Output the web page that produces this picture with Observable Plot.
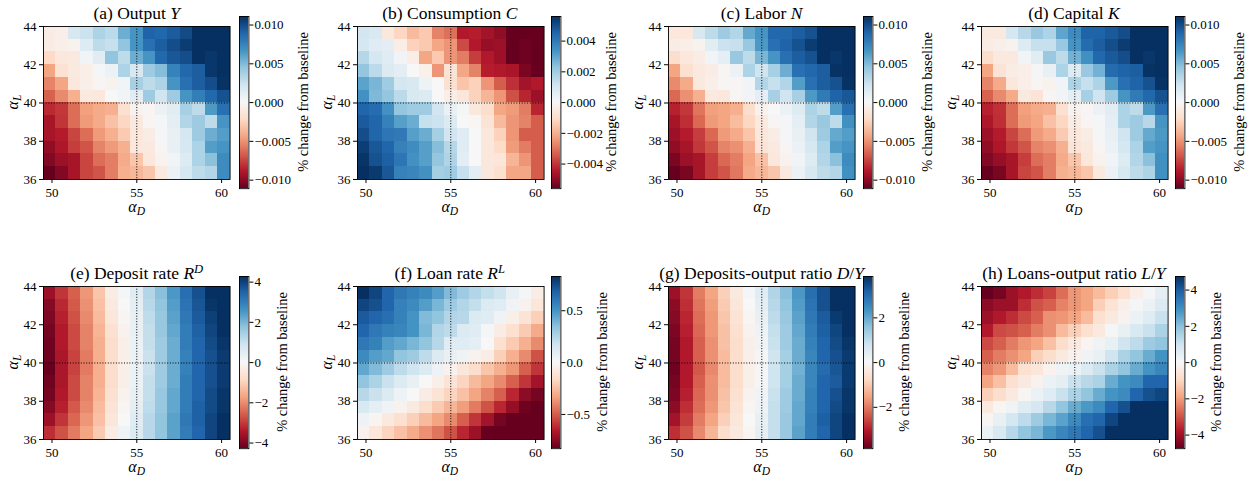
<!DOCTYPE html>
<html>
<head>
<meta charset="utf-8">
<script src="https://cdn.jsdelivr.net/npm/d3@7"></script>
<script src="https://cdn.jsdelivr.net/npm/@observablehq/plot@0.6"></script>
<style>
  body { margin: 0; background: #fff; }
  #fig { position: relative; width: 1260px; height: 481px; overflow: hidden; font-family: "Liberation Serif", serif; color: #000; }
  #fig .t { position: absolute; white-space: nowrap; line-height: 1; }
  #fig .sub { font-size: 0.72em; position: relative; top: 0.28em; }
  #fig .sup { font-size: 0.72em; position: relative; top: -0.45em; }
  #fig svg { position: absolute; }
</style>
</head>
<body>
<div id="fig"></div>
<script>
// ---------------- data ----------------
const alphaDEdges = [49.5, 50.233, 50.967, 51.7, 52.433, 53.167, 53.9, 54.633, 55.367, 56.1, 56.833, 57.567, 58.3, 59.033, 59.767, 60.5];
const alphaLEdges = [36, 36.667, 37.333, 38, 38.667, 39.333, 40, 40.667, 41.333, 42, 42.667, 43.333, 44];
const xTicks = [50, 55, 60];
const yTicks = [36, 38, 40, 42, 44];
const refD = 55;
const refL = 40;

const titles = [
  "(a) Output <i>Y</i>",
  "(b) Consumption <i>C</i>",
  "(c) Labor <i>N</i>",
  "(d) Capital <i>K</i>",
  "(e) Deposit rate <i>R</i><span class='sup'><i>D</i></span>",
  "(f) Loan rate <i>R</i><span class='sup'><i>L</i></span>",
  "(g) Deposits-output ratio <i>D</i>/<i>Y</i>",
  "(h) Loans-output ratio <i>L</i>/<i>Y</i>"
];
const colorbarLabel = "% change from baseline";

const ticksSmall = [-0.010, -0.005, 0, 0.005, 0.010];
const ticksCons = [-0.004, -0.002, 0, 0.002, 0.004];
const ticksRD = [-4, -2, 0, 2, 4];
const ticksRL = [-0.5, 0, 0.5];
const ticksDY = [-2, 0, 2];
const ticksLY = [-4, -2, 0, 2, 4];

// rows listed from top (alpha_L = 44) to bottom (alpha_L = 36)
const outputY = [
  [-0.0009,-0.0007,0.0018,0.0024,0.0035,0.0030,0.0055,0.0066,0.0090,0.0088,0.0093,0.0100,0.0111,0.0113,0.0114],
  [-0.0009,-0.0007,-0.0004,0.0015,0.0029,0.0026,0.0044,0.0066,0.0084,0.0092,0.0099,0.0106,0.0112,0.0112,0.0114],
  [-0.0022,-0.0013,-0.0011,0.0004,0.0013,0.0044,0.0029,0.0055,0.0066,0.0088,0.0095,0.0099,0.0112,0.0108,0.0113],
  [-0.0044,-0.0017,-0.0011,-0.0007,0.0002,0.0007,0.0035,0.0018,0.0040,0.0048,0.0075,0.0088,0.0092,0.0108,0.0112],
  [-0.0055,-0.0044,-0.0013,-0.0007,-0.0002,-0.0004,0.0004,0.0037,0.0029,0.0035,0.0066,0.0084,0.0092,0.0099,0.0110],
  [-0.0066,-0.0053,-0.0040,-0.0011,-0.0013,0.0000,0.0004,0.0013,0.0040,0.0022,0.0040,0.0066,0.0077,0.0088,0.0097],
  [-0.0084,-0.0079,-0.0062,-0.0046,-0.0042,-0.0040,-0.0018,-0.0004,-0.0002,0.0007,0.0013,0.0037,0.0029,0.0064,0.0084],
  [-0.0092,-0.0080,-0.0062,-0.0048,-0.0042,-0.0033,-0.0024,-0.0011,-0.0002,0.0002,0.0011,0.0033,0.0040,0.0029,0.0066],
  [-0.0092,-0.0088,-0.0075,-0.0062,-0.0048,-0.0040,-0.0029,-0.0013,-0.0009,0.0002,0.0009,0.0020,0.0040,0.0055,0.0062],
  [-0.0099,-0.0090,-0.0077,-0.0070,-0.0055,-0.0048,-0.0040,-0.0013,-0.0011,-0.0002,0.0009,0.0018,0.0035,0.0062,0.0066],
  [-0.0103,-0.0095,-0.0092,-0.0075,-0.0062,-0.0057,-0.0042,-0.0031,-0.0013,-0.0004,0.0004,0.0015,0.0035,0.0046,0.0070],
  [-0.0112,-0.0103,-0.0092,-0.0075,-0.0070,-0.0057,-0.0040,-0.0037,-0.0031,-0.0011,0.0007,0.0018,0.0029,0.0033,0.0070]
];

const consumptionC = [
  [0.0011,0.0009,-0.0006,-0.0012,-0.0018,-0.0015,-0.0028,-0.0031,-0.0045,-0.0044,-0.0047,-0.0050,-0.0057,-0.0056,-0.0058],
  [0.0010,0.0007,0.0006,-0.0004,-0.0013,-0.0015,-0.0022,-0.0025,-0.0037,-0.0045,-0.0049,-0.0048,-0.0057,-0.0055,-0.0057],
  [0.0016,0.0010,0.0007,0.0002,-0.0004,-0.0022,-0.0015,-0.0025,-0.0029,-0.0039,-0.0045,-0.0048,-0.0057,-0.0055,-0.0057],
  [0.0022,0.0015,0.0008,0.0006,0.0000,-0.0003,-0.0025,-0.0008,-0.0022,-0.0028,-0.0044,-0.0045,-0.0046,-0.0053,-0.0057],
  [0.0030,0.0026,0.0020,0.0010,0.0009,0.0003,0.0000,-0.0009,-0.0016,-0.0013,-0.0025,-0.0034,-0.0041,-0.0047,-0.0045],
  [0.0034,0.0025,0.0022,0.0015,0.0009,0.0008,0.0000,-0.0004,-0.0007,-0.0013,-0.0019,-0.0025,-0.0036,-0.0043,-0.0048],
  [0.0045,0.0043,0.0034,0.0022,0.0020,0.0020,0.0011,0.0004,0.0001,-0.0006,-0.0010,-0.0022,-0.0024,-0.0029,-0.0043],
  [0.0047,0.0045,0.0038,0.0031,0.0028,0.0013,0.0012,0.0008,0.0000,-0.0001,-0.0008,-0.0018,-0.0025,-0.0028,-0.0034],
  [0.0050,0.0045,0.0041,0.0040,0.0031,0.0028,0.0019,0.0011,0.0007,0.0000,-0.0006,-0.0013,-0.0025,-0.0034,-0.0034],
  [0.0053,0.0048,0.0045,0.0038,0.0035,0.0031,0.0024,0.0016,0.0007,0.0000,-0.0006,-0.0011,-0.0024,-0.0029,-0.0034],
  [0.0055,0.0049,0.0046,0.0041,0.0034,0.0031,0.0022,0.0017,0.0006,0.0000,-0.0006,-0.0007,-0.0019,-0.0025,-0.0034],
  [0.0056,0.0054,0.0048,0.0038,0.0037,0.0034,0.0019,0.0020,0.0013,0.0006,-0.0006,-0.0009,-0.0022,-0.0022,-0.0034]
];

const laborN = [
  [-0.0013,-0.0013,0.0018,0.0029,0.0040,0.0033,0.0057,0.0066,0.0088,0.0088,0.0092,0.0097,0.0111,0.0113,0.0114],
  [-0.0009,-0.0007,-0.0004,0.0013,0.0024,0.0026,0.0042,0.0064,0.0084,0.0090,0.0097,0.0106,0.0111,0.0112,0.0113],
  [-0.0020,-0.0013,-0.0009,0.0004,0.0011,0.0042,0.0029,0.0051,0.0066,0.0084,0.0092,0.0097,0.0111,0.0108,0.0112],
  [-0.0044,-0.0018,-0.0011,-0.0009,-0.0002,0.0007,0.0035,0.0022,0.0037,0.0055,0.0084,0.0088,0.0092,0.0110,0.0112],
  [-0.0053,-0.0042,-0.0011,-0.0007,-0.0002,-0.0002,0.0004,0.0033,0.0026,0.0033,0.0062,0.0084,0.0092,0.0097,0.0110],
  [-0.0064,-0.0051,-0.0040,-0.0011,-0.0013,-0.0002,0.0004,0.0011,0.0037,0.0022,0.0037,0.0064,0.0079,0.0090,0.0095],
  [-0.0086,-0.0079,-0.0060,-0.0046,-0.0044,-0.0040,-0.0020,-0.0004,0.0000,0.0007,0.0015,0.0035,0.0029,0.0062,0.0084],
  [-0.0092,-0.0082,-0.0064,-0.0048,-0.0044,-0.0035,-0.0024,-0.0011,-0.0002,0.0002,0.0011,0.0033,0.0042,0.0029,0.0068],
  [-0.0095,-0.0088,-0.0077,-0.0064,-0.0048,-0.0042,-0.0031,-0.0013,-0.0009,0.0002,0.0009,0.0022,0.0040,0.0057,0.0062],
  [-0.0099,-0.0092,-0.0079,-0.0070,-0.0055,-0.0051,-0.0040,-0.0015,-0.0011,-0.0002,0.0007,0.0018,0.0035,0.0062,0.0066],
  [-0.0105,-0.0095,-0.0092,-0.0077,-0.0064,-0.0057,-0.0044,-0.0033,-0.0013,-0.0004,0.0004,0.0015,0.0033,0.0046,0.0070],
  [-0.0112,-0.0105,-0.0092,-0.0077,-0.0070,-0.0059,-0.0042,-0.0037,-0.0031,-0.0011,0.0007,0.0018,0.0029,0.0033,0.0068]
];

const capitalK = [
  [-0.0011,-0.0011,0.0020,0.0031,0.0042,0.0035,0.0059,0.0070,0.0090,0.0090,0.0094,0.0099,0.0112,0.0114,0.0115],
  [-0.0009,-0.0006,-0.0004,0.0015,0.0026,0.0026,0.0042,0.0066,0.0086,0.0092,0.0099,0.0106,0.0112,0.0112,0.0114],
  [-0.0020,-0.0011,-0.0011,0.0004,0.0013,0.0042,0.0029,0.0053,0.0068,0.0088,0.0094,0.0099,0.0112,0.0108,0.0113],
  [-0.0044,-0.0015,-0.0009,-0.0007,0.0002,0.0009,0.0035,0.0015,0.0042,0.0053,0.0086,0.0090,0.0092,0.0110,0.0112],
  [-0.0055,-0.0042,-0.0013,-0.0007,-0.0002,-0.0004,0.0004,0.0035,0.0026,0.0035,0.0064,0.0084,0.0090,0.0097,0.0110],
  [-0.0066,-0.0053,-0.0042,-0.0011,-0.0015,-0.0002,0.0004,0.0011,0.0037,0.0022,0.0040,0.0066,0.0079,0.0088,0.0097],
  [-0.0086,-0.0081,-0.0062,-0.0046,-0.0042,-0.0040,-0.0018,-0.0004,-0.0002,0.0007,0.0013,0.0035,0.0029,0.0064,0.0084],
  [-0.0090,-0.0082,-0.0062,-0.0048,-0.0044,-0.0033,-0.0024,-0.0009,-0.0002,0.0002,0.0011,0.0035,0.0040,0.0031,0.0066],
  [-0.0095,-0.0088,-0.0075,-0.0062,-0.0048,-0.0042,-0.0029,-0.0013,-0.0009,0.0002,0.0009,0.0022,0.0040,0.0057,0.0064],
  [-0.0099,-0.0090,-0.0079,-0.0070,-0.0055,-0.0051,-0.0040,-0.0015,-0.0011,-0.0002,0.0007,0.0020,0.0035,0.0062,0.0066],
  [-0.0103,-0.0097,-0.0092,-0.0077,-0.0062,-0.0057,-0.0042,-0.0031,-0.0013,-0.0004,0.0004,0.0015,0.0033,0.0046,0.0068],
  [-0.0112,-0.0105,-0.0092,-0.0075,-0.0070,-0.0057,-0.0040,-0.0037,-0.0031,-0.0011,0.0007,0.0018,0.0029,0.0035,0.0068]
];

const depositRate = [
  [-3.68,-3.08,-2.57,-1.88,-1.20,-0.34,0.09,0.51,1.28,1.80,2.48,3.25,3.77,4.28,4.45],
  [-3.94,-3.25,-2.65,-1.97,-1.28,-0.43,0.00,0.43,1.20,1.71,2.40,3.17,3.68,4.19,4.45],
  [-4.02,-3.34,-2.74,-2.05,-1.37,-0.51,-0.09,0.34,1.11,1.63,2.31,3.08,3.60,4.02,4.37],
  [-4.11,-3.42,-2.82,-2.14,-1.46,-0.68,-0.17,0.34,1.03,1.63,2.23,3.00,3.51,3.94,4.28],
  [-4.19,-3.42,-2.82,-2.14,-1.54,-0.77,-0.26,0.26,1.03,1.54,2.14,3.00,3.42,3.85,4.19],
  [-4.19,-3.51,-2.91,-2.23,-1.54,-0.77,-0.26,0.26,0.94,1.54,2.14,2.91,3.42,3.77,4.11],
  [-4.28,-3.51,-2.91,-2.23,-1.54,-0.77,-0.26,0.26,0.94,1.54,2.14,2.91,3.42,3.77,4.11],
  [-4.19,-3.51,-2.82,-2.14,-1.54,-0.77,-0.26,0.26,1.03,1.54,2.14,3.00,3.42,3.77,4.11],
  [-4.11,-3.42,-2.82,-2.14,-1.46,-0.68,-0.17,0.34,1.03,1.63,2.23,3.00,3.42,3.85,4.19],
  [-3.94,-3.34,-2.65,-2.05,-1.37,-0.60,-0.09,0.43,1.11,1.63,2.23,3.00,3.51,3.85,4.19],
  [-3.68,-3.08,-2.48,-1.88,-1.28,-0.51,0.00,0.51,1.20,1.71,2.31,3.08,3.51,3.94,4.28],
  [-3.17,-2.74,-2.23,-1.71,-1.11,-0.34,0.17,0.60,1.20,1.71,2.31,3.00,3.42,3.94,4.28]
];

const loanRate = [
  [0.830,0.764,0.664,0.598,0.564,0.531,0.465,0.365,0.299,0.249,0.199,0.166,0.066,0.017,-0.066],
  [0.764,0.730,0.664,0.564,0.531,0.465,0.382,0.299,0.249,0.199,0.116,0.100,0.033,-0.033,-0.100],
  [0.697,0.664,0.631,0.564,0.498,0.365,0.332,0.249,0.232,0.116,0.100,0.033,-0.050,-0.116,-0.199],
  [0.664,0.598,0.564,0.548,0.498,0.382,0.249,0.216,0.116,0.100,0.017,-0.066,-0.133,-0.216,-0.315],
  [0.598,0.564,0.465,0.432,0.382,0.332,0.232,0.100,0.100,0.083,0.000,-0.133,-0.216,-0.299,-0.398],
  [0.531,0.465,0.432,0.332,0.299,0.216,0.116,0.066,0.033,-0.033,-0.066,-0.199,-0.299,-0.398,-0.531],
  [0.432,0.365,0.299,0.216,0.166,0.116,0.050,-0.033,-0.100,-0.149,-0.232,-0.299,-0.365,-0.498,-0.598],
  [0.332,0.266,0.183,0.116,0.066,0.000,-0.050,-0.116,-0.183,-0.266,-0.332,-0.398,-0.498,-0.598,-0.697],
  [0.232,0.183,0.116,0.050,0.000,-0.066,-0.116,-0.183,-0.249,-0.332,-0.415,-0.498,-0.631,-0.747,-0.797],
  [0.133,0.083,0.033,-0.033,-0.083,-0.149,-0.216,-0.282,-0.349,-0.432,-0.531,-0.631,-0.730,-0.813,-0.830],
  [0.050,-0.017,-0.083,-0.133,-0.199,-0.266,-0.332,-0.398,-0.498,-0.598,-0.697,-0.797,-0.830,-0.840,-0.850],
  [-0.033,-0.100,-0.183,-0.249,-0.315,-0.382,-0.448,-0.531,-0.631,-0.714,-0.830,-0.850,-0.860,-0.870,-0.880]
];

const depositsOutput = [
  [-3.31,-2.77,-2.00,-1.54,-0.92,-0.39,0.08,0.46,1.16,1.62,2.23,2.93,3.39,3.85,4.00],
  [-3.47,-2.85,-2.08,-1.62,-1.00,-0.46,0.00,0.39,1.08,1.54,2.16,2.85,3.39,3.85,4.00],
  [-3.54,-2.93,-2.16,-1.69,-1.08,-0.54,-0.08,0.31,1.00,1.46,2.08,2.77,3.23,3.70,3.93],
  [-3.62,-3.00,-2.23,-1.69,-1.16,-0.62,-0.15,0.23,0.92,1.39,2.00,2.70,3.16,3.54,3.85],
  [-3.70,-3.08,-2.31,-1.77,-1.16,-0.69,-0.23,0.15,0.85,1.39,1.93,2.62,3.08,3.47,3.77],
  [-3.70,-3.08,-2.31,-1.77,-1.23,-0.69,-0.23,0.08,0.77,1.31,1.93,2.54,3.08,3.39,3.70],
  [-3.77,-3.08,-2.39,-1.85,-1.23,-0.69,-0.23,0.08,0.77,1.31,1.85,2.54,3.00,3.31,3.70],
  [-3.70,-3.08,-2.31,-1.77,-1.23,-0.69,-0.23,0.08,0.77,1.31,1.93,2.54,3.08,3.23,3.70],
  [-3.62,-3.00,-2.23,-1.77,-1.16,-0.62,-0.15,0.15,0.85,1.39,1.93,2.62,3.08,3.39,3.77],
  [-3.47,-2.85,-2.16,-1.69,-1.08,-0.54,-0.08,0.23,0.92,1.39,2.00,2.62,3.08,3.47,3.77],
  [-3.23,-2.70,-2.00,-1.54,-0.92,-0.46,0.00,0.31,0.92,1.46,2.00,2.70,3.16,3.54,3.85],
  [-2.85,-2.46,-1.85,-1.31,-0.69,-0.39,-0.08,0.39,0.92,1.46,2.08,2.70,3.08,3.54,3.85]
];

const loansOutput = [
  [-4.75,-4.56,-4.09,-3.80,-3.52,-3.23,-2.66,-2.09,-1.90,-1.52,-1.14,-0.76,-0.29,0.10,0.48],
  [-4.28,-4.09,-4.09,-3.52,-3.04,-2.85,-2.38,-2.09,-1.90,-1.14,-0.67,-0.29,0.10,0.29,0.67],
  [-4.09,-3.80,-3.52,-3.14,-2.85,-2.19,-2.09,-1.90,-1.52,-0.76,-0.48,-0.19,0.29,0.57,1.05],
  [-3.80,-3.14,-3.04,-2.85,-2.47,-2.19,-1.52,-1.14,-0.76,-0.48,0.10,0.38,0.76,1.05,1.52],
  [-3.14,-2.85,-2.47,-2.09,-1.90,-1.43,-0.86,-0.48,-0.10,0.19,0.38,0.95,1.24,1.71,1.90],
  [-2.85,-2.47,-2.19,-1.90,-1.14,-0.86,-0.48,-0.19,0.19,0.38,0.95,1.52,1.90,2.38,2.85],
  [-2.38,-2.09,-1.52,-0.76,-0.57,-0.19,0.19,0.29,0.67,1.05,1.52,1.90,2.38,2.85,3.14],
  [-1.90,-1.43,-0.76,-0.48,-0.19,0.29,0.48,1.05,1.33,1.52,2.38,2.85,3.04,3.80,3.80],
  [-1.14,-0.86,-0.48,-0.10,0.29,0.57,1.05,1.52,1.90,2.38,2.85,3.04,3.80,4.18,4.37],
  [-0.48,-0.10,0.19,0.57,0.86,1.33,1.90,2.38,2.76,3.04,3.80,4.18,4.80,4.85,4.90],
  [-0.10,0.38,0.86,1.24,1.71,2.19,2.57,3.04,3.61,3.80,4.37,4.80,4.85,4.90,4.95],
  [0.29,0.76,1.33,1.90,2.19,2.76,3.14,3.42,3.80,4.18,4.80,4.85,4.90,4.95,5.00]
];

const series = [outputY, consumptionC, laborN, capitalK, depositRate, loanRate, depositsOutput, loansOutput];
const colorLimits = [0.0111, 0.0056, 0.0111, 0.0111, 4.28, 0.83, 3.85, 4.75];
const colorTicks = [ticksSmall, ticksCons, ticksSmall, ticksSmall, ticksRD, ticksRL, ticksDY, ticksLY];
const colorFormats = [".3f", ".3f", ".3f", ".3f", "d", ".1f", "d", "d"];

// ---------------- style / layout ----------------
const RDBU = ["#67001f","#b2182b","#d6604d","#f4a582","#fddbc7","#f7f7f7","#d1e5f0","#92c5de","#4393c3","#2166ac","#053061"];
const rdbu = d3.piecewise(d3.interpolateRgb, RDBU);
const FONT = '"Liberation Serif", serif';
const colLeft = [43.4, 356.5, 668.3, 980.6];
const rowTop = [25.7, 285.7];
const plotW = 186.6, plotH = 153;
const cbGap = [196, 194, 194.2, 193.9];
const cbW = 9.4, cbExtra = 9.6;
const cbLabelOffset = [54, 51.5, 55, 55.5, 33, 42, 32, 32.5];
const mL = 42, mR = 2, mT = 2, mB = 24;
const svgStyle = {fontFamily: FONT, fontSize: "13px", background: "transparent", overflow: "visible", maxWidth: "none", color: "black"};
const axisText = {fontFamily: FONT, fontSize: 13};

const fig = document.getElementById("fig");

function addSvg(svg, left, top) {
  svg.style.left = left + "px";
  svg.style.top = top + "px";
  fig.appendChild(svg);
}
function addText(html, size, cx, baseline) {
  const d = document.createElement("div");
  d.className = "t";
  d.innerHTML = html;
  d.style.fontFamily = FONT;
  d.style.fontSize = size + "px";
  d.style.left = cx + "px";
  d.style.top = (baseline - 0.84 * size) + "px";
  d.style.transform = "translateX(-50%)";
  fig.appendChild(d);
}
function addRotated(html, size, cx, cy) {
  const d = document.createElement("div");
  d.className = "t";
  d.innerHTML = html;
  d.style.fontFamily = FONT;
  d.style.fontSize = size + "px";
  d.style.left = cx + "px";
  d.style.top = cy + "px";
  d.style.transform = "translate(-50%,-50%) rotate(-90deg)";
  fig.appendChild(d);
}

series.forEach((values, k) => {
  const c = k % 4, r = Math.floor(k / 4);
  const L = colLeft[c], T = rowTop[r];
  const vmax = colorLimits[k];
  const color = {type: "linear", domain: [-vmax, vmax], interpolate: rdbu, clamp: true};

  const cells = [];
  values.forEach((row, i) => row.forEach((v, j) => {
    cells.push({x1: alphaDEdges[j], x2: alphaDEdges[j + 1], y1: alphaLEdges[11 - i], y2: alphaLEdges[12 - i], v});
  }));

  const heat = Plot.plot({
    width: mL + plotW + mR, height: mT + plotH + mB,
    marginLeft: mL, marginRight: mR, marginTop: mT, marginBottom: mB,
    style: svgStyle,
    x: {domain: [alphaDEdges[0], alphaDEdges[alphaDEdges.length - 1]]},
    y: {domain: [alphaLEdges[0], alphaLEdges[alphaLEdges.length - 1]]},
    color,
    marks: [
      Plot.rect(cells, {x1: "x1", x2: "x2", y1: "y1", y2: "y2", fill: "v", shapeRendering: "crispEdges"}),
      Plot.ruleX([refD], {stroke: "black", strokeWidth: 1, strokeDasharray: "1,1.7"}),
      Plot.ruleY([refL], {stroke: "black", strokeWidth: 1, strokeDasharray: "1,1.7"}),
      Plot.frame({stroke: "black", strokeWidth: 0.9}),
      Plot.axisX({ticks: xTicks, tickSize: 4, tickPadding: 4, label: null, ...axisText}),
      Plot.axisY({ticks: yTicks, tickSize: 4, tickPadding: 3, label: null, ...axisText})
    ]
  });
  addSvg(heat, L - mL, T - mT);

  // colorbar
  const N = 172;
  const stops = d3.range(N).map(i => ({lo: -vmax + i * 2 * vmax / N, hi: -vmax + (i + 1) * 2 * vmax / N, mid: -vmax + (i + 0.5) * 2 * vmax / N}));
  const cb = Plot.plot({
    width: cbW + 50, height: plotH + 2 * cbExtra,
    marginLeft: 0, marginRight: 50, marginTop: 0, marginBottom: 0,
    style: svgStyle,
    x: {domain: [0, 1], axis: null},
    y: {domain: [-vmax, vmax]},
    color,
    marks: [
      Plot.rect(stops, {x1: 0, x2: 1, y1: "lo", y2: "hi", fill: "mid", shapeRendering: "crispEdges"}),
      Plot.frame({stroke: "black", strokeWidth: 0.9}),
      Plot.axisY({anchor: "right", ticks: colorTicks[k], tickFormat: d3.format(colorFormats[k]), tickSize: 4, tickPadding: 1.5, label: null, ...axisText})
    ]
  });
  const cbLeft = L + cbGap[c];
  addSvg(cb, cbLeft, T - cbExtra);

  // texts
  addText(titles[k], 17.5, L + plotW / 2, T - 6.5);
  addText("<i>α</i><span class='sub'><i>D</i></span>", 16, L + plotW / 2, T + plotH + 34);
  addRotated("<i>α</i><span class='sub'><i>L</i></span>", 16, L - 30, T + plotH / 2);
  addRotated(colorbarLabel, 14.5, cbLeft + cbW + cbLabelOffset[k], T + plotH / 2);
});
</script>
</body>
</html>
